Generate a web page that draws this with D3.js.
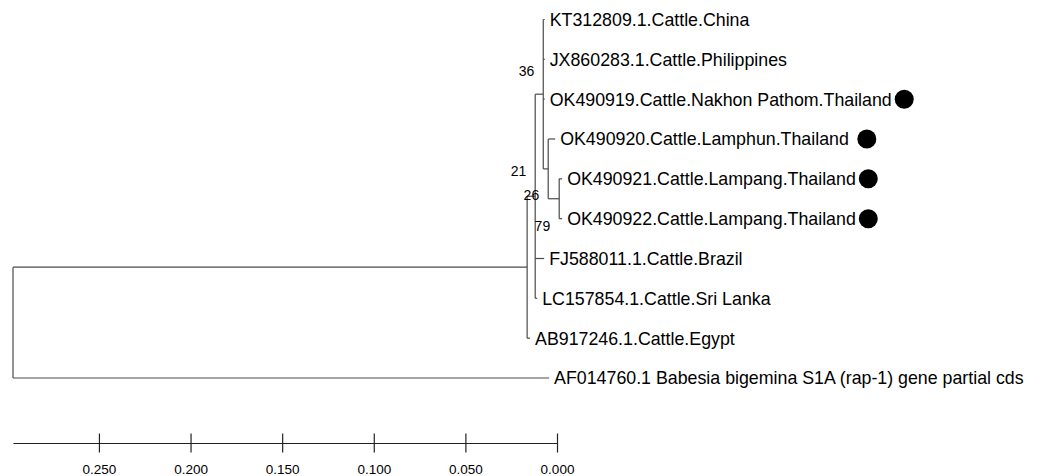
<!DOCTYPE html>
<html>
<head>
<meta charset="utf-8">
<script src="https://cdn.jsdelivr.net/npm/d3@7"></script>
<style>
  html, body { margin: 0; padding: 0; background: #fff; }
  svg { display: block; }
  text { font-family: "Liberation Sans", Arial, sans-serif; fill: #000; }
</style>
</head>
<body>
<svg id="chart" width="1048" height="476"></svg>
<script>
// ---- data ----
const taxa = [
  "KT312809.1.Cattle.China",
  "JX860283.1.Cattle.Philippines",
  "OK490919.Cattle.Nakhon Pathom.Thailand",
  "OK490920.Cattle.Lamphun.Thailand",
  "OK490921.Cattle.Lampang.Thailand",
  "OK490922.Cattle.Lampang.Thailand",
  "FJ588011.1.Cattle.Brazil",
  "LC157854.1.Cattle.Sri Lanka",
  "AB917246.1.Cattle.Egypt",
  "AF014760.1 Babesia bigemina S1A (rap-1) gene partial cds"
];
// [node, parent, branch length]
const edges = [
  ["root", "", 0],
  ["ingroup", "root", 0.2806],
  ["AF014760.1 Babesia bigemina S1A (rap-1) gene partial cds", "root", 0.2926],
  ["n26", "ingroup", 0.0044],
  ["AB917246.1.Cattle.Egypt", "ingroup", 0.0016],
  ["n36", "n26", 0.0044],
  ["FJ588011.1.Cattle.Brazil", "n26", 0.0049],
  ["LC157854.1.Cattle.Sri Lanka", "n26", 0.0011],
  ["KT312809.1.Cattle.China", "n36", 0.0008],
  ["JX860283.1.Cattle.Philippines", "n36", 0.0008],
  ["OK490919.Cattle.Nakhon Pathom.Thailand", "n36", 0.0008],
  ["n21", "n36", 0.0027],
  ["OK490920.Cattle.Lamphun.Thailand", "n21", 0.0038],
  ["n79", "n21", 0.0060],
  ["OK490921.Cattle.Lampang.Thailand", "n79", 0.0016],
  ["OK490922.Cattle.Lampang.Thailand", "n79", 0.0016]
];
const support = [["n36", 36], ["n21", 21], ["n26", 26], ["n79", 79]];
const marked = [
  "OK490919.Cattle.Nakhon Pathom.Thailand",
  "OK490920.Cattle.Lamphun.Thailand",
  "OK490921.Cattle.Lampang.Thailand",
  "OK490922.Cattle.Lampang.Thailand"
];
const scaleTicks = [0.25, 0.2, 0.15, 0.1, 0.05, 0.0];
const scaleTickLabels = ["0.250", "0.200", "0.150", "0.100", "0.050", "0.000"];
const scaleMax = 0.2969;

// ---- layout / style ----
const supportOffset = { n36: [-9, -23], n21: [-22, 2.5], n26: [4, -1], n79: [-9, 27] };
const markerGap = { "OK490920.Cattle.Lamphun.Thailand": 18 };
const defaultMarkerGap = 12.5;
const lineColor = "#4a4a4a";
const svg = d3.select("#chart");

const xDepth = d3.scaleLinear().domain([0, scaleMax]).range([13, 557]);
const xAxisScale = d3.scaleLinear().domain([scaleMax, 0]).range([13, 557]);
const yRow = d3.scaleLinear().domain([0, taxa.length - 1]).range([19.5, 378]);

const root = d3.stratify()
  .id(d => d[0])
  .parentId(d => d[1] === "" ? null : d[1])(edges);

root.eachBefore(n => { n.depth_ = n.parent ? n.parent.depth_ + n.data[2] : 0; n.x = xDepth(n.depth_); });
root.eachAfter(n => {
  if (!n.children) n.y = yRow(taxa.indexOf(n.id));
  else n.y = (n.children[0].y + n.children[n.children.length - 1].y) / 2;
});

const g = svg.append("g");
root.descendants().filter(n => n.parent).forEach(n => {
  g.append("line")
    .attr("x1", n.parent.x).attr("x2", n.x)
    .attr("y1", n.y).attr("y2", n.y)
    .attr("stroke", lineColor).attr("stroke-width", 1.2);
});
root.descendants().filter(n => n.children).forEach(n => {
  g.append("line")
    .attr("x1", n.x).attr("x2", n.x)
    .attr("y1", n.children[0].y).attr("y2", n.children[n.children.length - 1].y)
    .attr("stroke", lineColor).attr("stroke-width", 1.2);
});

root.leaves().forEach(n => {
  const t = g.append("text")
    .attr("x", n.x + 5).attr("y", n.y)
    .attr("dy", "0.36em")
    .attr("font-size", "17.8px")
    .text(n.id);
  if (marked.includes(n.id)) {
    const w = t.node().getComputedTextLength();
    const gap = markerGap[n.id] !== undefined ? markerGap[n.id] : defaultMarkerGap;
    g.append("circle")
      .attr("cx", n.x + 5 + w + gap).attr("cy", n.y)
      .attr("r", 9.5).attr("fill", "#000");
  }
});

const nodeById = new Map(root.descendants().map(n => [n.id, n]));
support.forEach(([id, v]) => {
  const n = nodeById.get(id);
  const off = supportOffset[id];
  g.append("text")
    .attr("x", n.x + off[0]).attr("y", n.y + off[1])
    .attr("dy", "0.36em")
    .attr("text-anchor", "end")
    .attr("font-size", "14px")
    .text(v);
});

const axis = d3.axisBottom(xAxisScale)
  .tickValues(scaleTicks)
  .tickFormat((d, i) => scaleTickLabels[i])
  .tickSizeInner(9.5)
  .tickSizeOuter(0)
  .tickPadding(12);
const ax = svg.append("g").attr("transform", "translate(0,443)").call(axis);
ax.select(".domain").attr("stroke", "#222").attr("stroke-width", 1.2);
ax.selectAll(".tick line").attr("stroke", "#222").attr("stroke-width", 1.2).attr("y1", -9.5);
ax.selectAll(".tick text")
  .attr("font-family", "'Liberation Sans', Arial, sans-serif")
  .attr("font-size", "13.5px").attr("fill", "#000");
</script>
</body>
</html>
